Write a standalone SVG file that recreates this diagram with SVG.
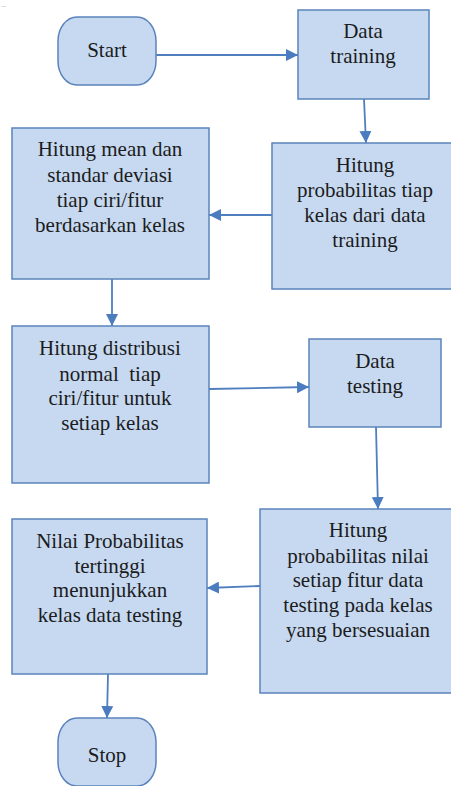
<svg xmlns="http://www.w3.org/2000/svg" width="451" height="786" viewBox="0 0 451 786">
  <style>
    .box { fill: #c6d9f1; stroke: #5b84ba; stroke-width: 1.5; }
    .lbl { font-size: 21px; fill: #1c1c1c; text-anchor: middle; }
    .edge { fill: none; stroke: #4f7fbf; stroke-width: 1.8; marker-end: url(#arrow); }
  </style>
  <defs>
    <marker id="arrow" markerUnits="userSpaceOnUse" markerWidth="12" markerHeight="12" viewBox="0 0 12 12" refX="12" refY="6" orient="auto">
      <path d="M0,0 L12,6 L0,12 Z" fill="#4a7cbf"/>
    </marker>
  </defs>
  <rect width="451" height="786" fill="#ffffff"/>

  <text x="1" y="7" font-family="'Liberation Sans', sans-serif" font-size="6" fill="#555555">...</text>

  <g id="connectors">
    <line class="edge" x1="156" y1="55" x2="298" y2="55"/>
    <line class="edge" x1="364" y1="99" x2="366" y2="143"/>
    <line class="edge" x1="272" y1="215" x2="209" y2="215"/>
    <line class="edge" x1="112" y1="279" x2="112" y2="326"/>
    <line class="edge" x1="209" y1="389" x2="309" y2="387"/>
    <line class="edge" x1="376" y1="427" x2="378" y2="509"/>
    <line class="edge" x1="260" y1="586" x2="207" y2="588"/>
    <line class="edge" x1="108" y1="674" x2="107" y2="718"/>
  </g>

  <g font-family="'Liberation Serif', 'DejaVu Serif', serif">
  <g id="start">
    <rect class="box" x="58" y="17" width="98" height="68" rx="19" ry="24"/>
    <text class="lbl" x="107" y="57">Start</text>
  </g>

  <g id="data-training">
    <rect class="box" x="298" y="10" width="131" height="89"/>
    <text class="lbl" x="363" y="38">Data</text>
    <text class="lbl" x="363" y="63">training</text>
  </g>

  <g id="prob-kelas">
    <rect class="box" x="272" y="143" width="190" height="146"/>
    <text class="lbl" x="365" y="172">Hitung</text>
    <text class="lbl" x="365" y="197">probabilitas tiap</text>
    <text class="lbl" x="365" y="222">kelas dari data</text>
    <text class="lbl" x="365" y="247">training</text>
  </g>

  <g id="mean-std">
    <rect class="box" x="12" y="128" width="197" height="151"/>
    <text class="lbl" x="110" y="156">Hitung mean dan</text>
    <text class="lbl" x="110" y="182">standar deviasi</text>
    <text class="lbl" x="110" y="207">tiap ciri/fitur</text>
    <text class="lbl" x="110" y="232">berdasarkan kelas</text>
  </g>

  <g id="distribusi">
    <rect class="box" x="12" y="326" width="197" height="157"/>
    <text class="lbl" x="110" y="355">Hitung distribusi</text>
    <text class="lbl" x="110" y="381" xml:space="preserve">normal  tiap</text>
    <text class="lbl" x="110" y="405">ciri/fitur untuk</text>
    <text class="lbl" x="110" y="430">setiap kelas</text>
  </g>

  <g id="data-testing">
    <rect class="box" x="309" y="339" width="132" height="88"/>
    <text class="lbl" x="375" y="368">Data</text>
    <text class="lbl" x="375" y="393">testing</text>
  </g>

  <g id="prob-fitur">
    <rect class="box" x="260" y="509" width="200" height="184"/>
    <text class="lbl" x="358" y="537">Hitung</text>
    <text class="lbl" x="358" y="563">probabilitas nilai</text>
    <text class="lbl" x="358" y="587">setiap fitur data</text>
    <text class="lbl" x="358" y="612">testing pada kelas</text>
    <text class="lbl" x="358" y="637">yang bersesuaian</text>
  </g>

  <g id="nilai-tertinggi">
    <rect class="box" x="12" y="519" width="195" height="155"/>
    <text class="lbl" x="110" y="548">Nilai Probabilitas</text>
    <text class="lbl" x="110" y="573">tertinggi</text>
    <text class="lbl" x="110" y="597">menunjukkan</text>
    <text class="lbl" x="110" y="622">kelas data testing</text>
  </g>

  <g id="stop">
    <rect class="box" x="58" y="718" width="98" height="68" rx="19" ry="24"/>
    <text class="lbl" x="107" y="762">Stop</text>
  </g>
  </g>
</svg>
